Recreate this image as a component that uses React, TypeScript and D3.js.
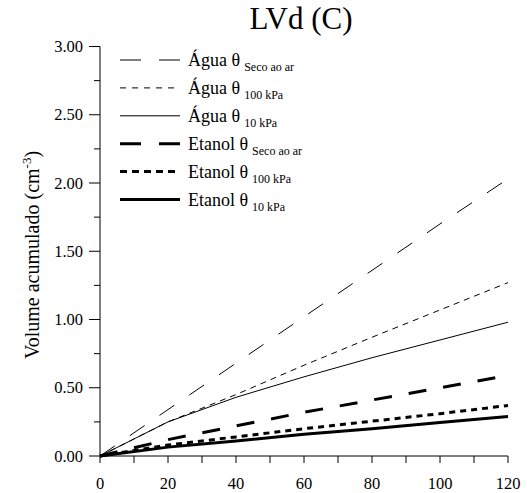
import React from "react";
import * as d3 from "d3";

const xValues = [0, 20, 40, 60, 80, 100, 120];
const aguaSeco = [0, 0.34, 0.68, 1.02, 1.36, 1.7, 2.03];
const agua100 = [0, 0.25, 0.45, 0.665, 0.87, 1.07, 1.27];
const agua10 = [0, 0.25, 0.43, 0.58, 0.72, 0.85, 0.98];
const etanolSeco = [0, 0.12, 0.22, 0.32, 0.41, 0.5, 0.59];
const etanol100 = [0, 0.08, 0.14, 0.2, 0.255, 0.31, 0.37];
const etanol10 = [0, 0.065, 0.11, 0.16, 0.2, 0.245, 0.29];

const seriesNames = ["Água θ", "Água θ", "Água θ", "Etanol θ", "Etanol θ", "Etanol θ"];
const seriesSubs = ["Seco ao ar", "100 kPa", "10 kPa", "Seco ao ar", "100 kPa", "10 kPa"];
const xTicks = [0, 20, 40, 60, 80, 100, 120];
const yTicks = [0, 0.5, 1, 1.5, 2, 2.5, 3];
const title = "LVd (C)";

const styles = [
  { w: 1, dash: "18,18", legendDash: "21,18" },
  { w: 1, dash: "6,5", legendDash: "6,6" },
  { w: 1, dash: null, legendDash: null },
  { w: 3, dash: "18,17", legendDash: "21,18" },
  { w: 3, dash: "6,5", legendDash: "7,5" },
  { w: 3, dash: null, legendDash: null },
];

const font = "'Times New Roman', Times, serif";

export default function App() {
  const W = 527, H = 493;
  const x = d3.scaleLinear().domain([0, 120]).range([100, 508]);
  const y = d3.scaleLinear().domain([0, 3]).range([456, 46.5]);
  const data = [aguaSeco, agua100, agua10, etanolSeco, etanol100, etanol10];
  const line = d3.line<number>().x((_, i) => x(xValues[i])).y((d) => y(d));
  const xMinor = d3.range(0, 121, 10);
  const yMinor = d3.range(0, 3.001, 0.25);
  const legendY0 = 60;
  const legendStep = 27.9;
  const ts = { fontFamily: font };
  return (
    <svg width={W} height={H} style={{ position: "absolute", left: 0, top: 0, background: "#fff", fontFamily: font }}>
      <rect width={W} height={H} fill="#fff" />
      <text x={301} y={29} fontSize={31} textAnchor="middle" style={ts}>{title}</text>
      <line x1={100} x2={100} y1={y(3)} y2={y(0)} stroke="#000" strokeWidth={1} />
      <line x1={100} x2={508} y1={y(0)} y2={y(0)} stroke="#000" strokeWidth={1} />
      {yMinor.map((v, i) => (
        <line key={"ym" + i} x1={100} x2={i % 2 === 0 ? 89 : 94} y1={y(v)} y2={y(v)} stroke="#000" />
      ))}
      {xMinor.map((v, i) => (
        <line key={"xm" + i} x1={x(v)} x2={x(v)} y1={y(0)} y2={y(0) + 7} stroke="#000" />
      ))}
      {yTicks.map((v) => (
        <text key={"yt" + v} x={83} y={y(v) + 5.5} fontSize={16.5} textAnchor="end" style={ts}>{v.toFixed(2)}</text>
      ))}
      {xTicks.map((v) => (
        <text key={"xt" + v} x={x(v)} y={489} fontSize={16.5} textAnchor="middle" style={ts}>{v}</text>
      ))}
      <text transform={`translate(39,255) rotate(-90)`} fontSize={20} textAnchor="middle" style={ts}>
        Volume acumulado (cm<tspan dy={-8} fontSize={13}>-3</tspan><tspan dy={8}>)</tspan>
      </text>
      {data.map((d, i) => (
        <path key={"s" + i} d={line(d) || ""} fill="none" stroke="#000" strokeWidth={styles[i].w}
          strokeDasharray={styles[i].dash || undefined} />
      ))}
      {seriesNames.map((n, i) => {
        const ly = legendY0 + i * legendStep;
        return (
          <g key={"lg" + i}>
            <line x1={120} x2={180} y1={ly} y2={ly} stroke="#000" strokeWidth={styles[i].w}
              strokeDasharray={styles[i].legendDash || undefined} />
            <text x={188} y={ly + 6} fontSize={18} style={ts}>
              {n}
              <tspan dx={4} dy={5} fontSize={12}>{seriesSubs[i]}</tspan>
            </text>
          </g>
        );
      })}
    </svg>
  );
}
